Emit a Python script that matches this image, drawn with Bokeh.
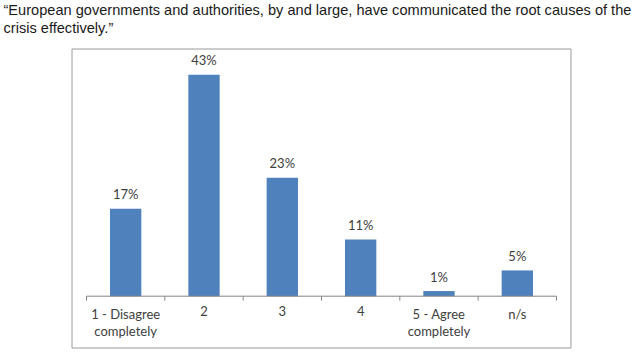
from bokeh.plotting import figure
from bokeh.models import Range1d
from bokeh.core.properties import value
from bokeh.embed import file_html
from bokeh.resources import INLINE

# ---- data ----
categories = ["1 - Disagree\ncompletely", "2", "3", "4", "5 - Agree\ncompletely", "n/s"]
values = [17, 43, 23, 11, 1, 5]
value_labels = ["17%", "43%", "23%", "11%", "1%", "5%"]
title_lines = [
    "\u201cEuropean governments and authorities, by and large, have communicated the root causes of the",
    "crisis effectively.\u201d",
]

# ---- layout (canvas pixel geometry) ----
W, H = 640, 353
AXIS_LEFT_PX = 86.0      # left end of category axis
CAT_PX = 78.33           # pixels per category
BASE_PX = 295.7          # y pixel (from top) of the baseline
PCT_PX = 5.15            # pixels per percentage point


def dx(px):
    return (px - AXIS_LEFT_PX) / CAT_PX


def dy(py):
    return (BASE_PX - py) / PCT_PX


p = figure(
    width=W, height=H,
    x_range=Range1d(dx(0), dx(W)), y_range=Range1d(dy(H), dy(0)),
    x_axis_type=None, y_axis_type=None,
    output_backend="svg", toolbar_location=None, min_border=0,
)
p.grid.visible = False
p.outline_line_color = None
p.background_fill_color = "white"
p.border_fill_color = "white"

xs = [i + 0.5 for i in range(len(categories))]

# chart frame
p.quad(left=dx(71.5), right=dx(570.5), top=dy(48.5), bottom=dy(347.5),
       fill_color=None, line_color="#9a9a9a", line_width=1)

# bars
p.vbar(x=xs, top=values, bottom=0, width=0.4, fill_color="#4F81BD", line_color=None)

# value labels
p.text(x=xs, y=values, text=value_labels, text_align="center", text_baseline="middle",
       y_offset=-14.5, text_font=value("Lato"), text_font_size="13px", text_color="#404040")

# category axis
n = len(categories)
p.segment(x0=[0], x1=[n], y0=[0], y1=[0], line_color="#868686", line_width=1)
p.segment(x0=list(range(n + 1)), x1=list(range(n + 1)), y0=[0] * (n + 1),
          y1=[dy(BASE_PX + 4.5)] * (n + 1), line_color="#868686", line_width=1)
p.text(x=xs, y=[dy(305)] * n, text=categories, text_align="center", text_baseline="top",
       text_font=value("Lato"), text_font_size="13px", text_color="#404040",
       text_line_height=1.08)

# title
p.text(x=[dx(3)], y=[dy(1)], text=["\n".join(title_lines)], text_align="left",
       text_baseline="top", text_font=value("Liberation Sans"), text_font_size="14.6px",
       text_color="#1a1a1a", text_line_height=1.13)

open("out.html", "w").write(file_html(p, INLINE))
